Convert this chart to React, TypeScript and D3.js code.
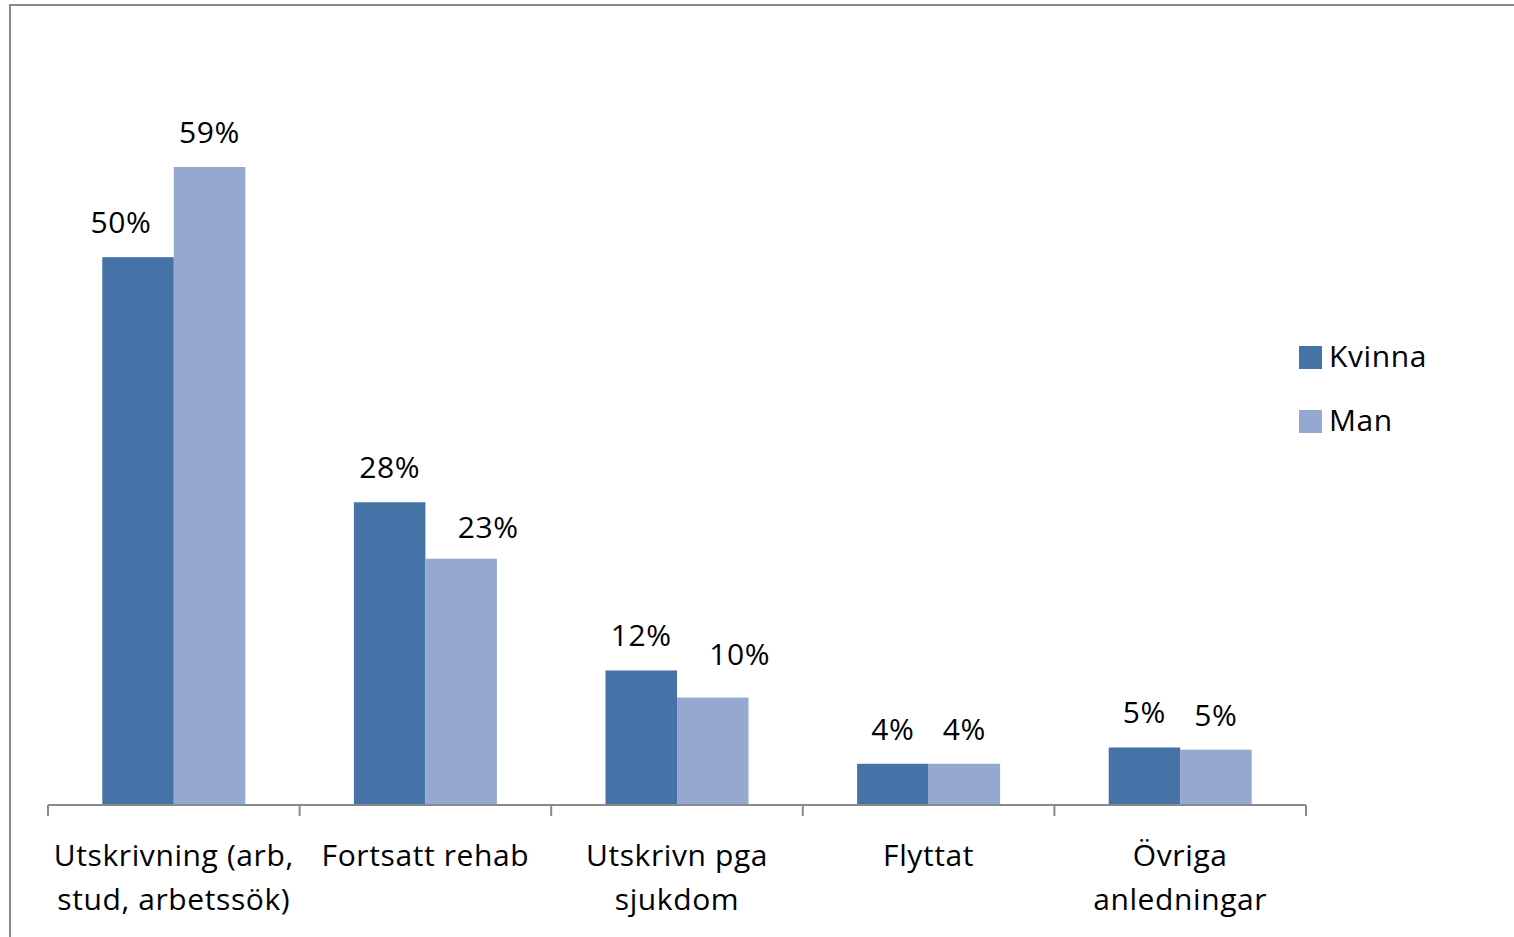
import React from "react";
import * as d3 from "d3";

const categories: string[][] = [
  ["Utskrivning (arb,", "stud, arbetssök)"],
  ["Fortsatt rehab"],
  ["Utskrivn pga", "sjukdom"],
  ["Flyttat"],
  ["Övriga", "anledningar"],
];
const series = ["Kvinna", "Man"];
const kvinna = [0.5049, 0.279, 0.124, 0.038, 0.053];
const man = [0.588, 0.227, 0.099, 0.038, 0.051];
const colors = ["#4572A7", "#95A9D0"];
// manual label nudges (series index, category index) -> [dx, dy]
const labelNudges: Record<string, [number, number]> = {
  "0-0": [-17, 0],
  "1-1": [27, 3],
  "1-2": [27, -9],
};

const W = 1514;
const H = 937;
const FONT = "'Open Sans', 'Noto Sans', sans-serif";
const FS = 30;
const LS = 0.6;

export default function App() {
  const keys = categories.map((_, i) => String(i));
  const x0 = d3.scaleBand<string>().domain(keys).range([48, 1306]).padding(0);
  const bw = x0.bandwidth();
  const barW = 71.5;
  const x1 = d3
    .scaleBand<string>()
    .domain(series)
    .range([bw / 2 - barW, bw / 2 + barW])
    .padding(0);
  const y = d3.scaleLinear().domain([0, 0.7]).range([805, 45.5]);
  const fmt = d3.format(".0%");
  const values = [kvinna, man];
  const ticks = d3.range(categories.length + 1).map((i) => 48 + i * bw);

  return (
    <svg
      width={W}
      height={H}
      style={{ position: "absolute", left: 0, top: 0, background: "#fff" }}
      fontFamily={FONT}
      letterSpacing={LS}
    >
      <rect x={0} y={0} width={W} height={H} fill="#fff" />
      <rect
        x={10}
        y={5}
        width={W + 20}
        height={H + 20}
        fill="none"
        stroke="#8a8a8a"
        strokeWidth={2}
      />
      {keys.map((k, ci) => (
        <g key={k} transform={`translate(${x0(k)},0)`}>
          {series.map((s, si) => {
            const v = values[si][ci];
            const bx = x1(s)!;
            const nud = labelNudges[`${si}-${ci}`] || [0, 0];
            return (
              <g key={s}>
                <rect
                  x={bx}
                  y={y(v)}
                  width={x1.bandwidth()}
                  height={y(0) - y(v)}
                  fill={colors[si]}
                />
                <text
                  x={bx + x1.bandwidth() / 2 + nud[0]}
                  y={y(v) - 24 + nud[1]}
                  textAnchor="middle"
                  fontSize={FS}
                  fill="#000"
                >
                  {fmt(v)}
                </text>
              </g>
            );
          })}
          {categories[ci].map((line, li) => (
            <text
              key={li}
              x={bw / 2}
              y={866 + li * 44}
              textAnchor="middle"
              fontSize={FS}
              fill="#000"
            >
              {line}
            </text>
          ))}
        </g>
      ))}
      <line x1={48} x2={1306} y1={805} y2={805} stroke="#8a8a8a" strokeWidth={2} />
      {ticks.map((t, i) => (
        <line key={i} x1={t} x2={t} y1={805} y2={816} stroke="#8a8a8a" strokeWidth={2} />
      ))}
      {series.map((s, si) => (
        <g key={s} transform={`translate(1299,${346 + si * 64})`}>
          <rect x={0} y={0} width={23} height={23} fill={colors[si]} />
          <text x={30} y={21} fontSize={FS} fill="#000">
            {s}
          </text>
        </g>
      ))}
    </svg>
  );
}
